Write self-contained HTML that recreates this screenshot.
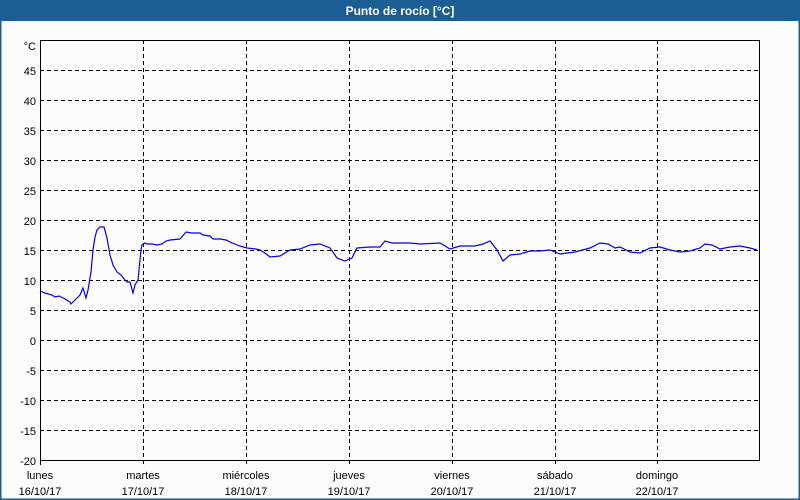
<!DOCTYPE html>
<html><head><style>
body{margin:0;background:#fff}
svg{display:block;font-family:"Liberation Sans",sans-serif}
</style></head><body>
<svg width="800" height="500" viewBox="0 0 800 500" xmlns="http://www.w3.org/2000/svg">
<rect x="0" y="0" width="800" height="500" fill="#fcfcfc"/>
<rect x="0.5" y="0.5" width="799" height="499" fill="none" stroke="#1b5e95" stroke-width="2"/>
<rect x="0" y="0" width="800" height="21" fill="#1b5e95"/>
<text x="400" y="15" fill="#fff" font-size="12" font-weight="bold" text-anchor="middle">Punto de rocío [°C]</text>
<g stroke="#000" stroke-dasharray="4,3" stroke-width="1">
<line x1="40" x2="760" y1="70.5" y2="70.5"/><line x1="40" x2="760" y1="100.5" y2="100.5"/>
<line x1="40" x2="760" y1="130.5" y2="130.5"/><line x1="40" x2="760" y1="160.5" y2="160.5"/>
<line x1="40" x2="760" y1="190.5" y2="190.5"/><line x1="40" x2="760" y1="220.5" y2="220.5"/>
<line x1="40" x2="760" y1="250.5" y2="250.5"/><line x1="40" x2="760" y1="280.5" y2="280.5"/>
<line x1="40" x2="760" y1="310.5" y2="310.5"/><line x1="40" x2="760" y1="340.5" y2="340.5"/>
<line x1="40" x2="760" y1="370.5" y2="370.5"/><line x1="40" x2="760" y1="400.5" y2="400.5"/>
<line x1="40" x2="760" y1="430.5" y2="430.5"/>
<line x1="143.5" x2="143.5" y1="40" y2="465"/><line x1="246.5" x2="246.5" y1="40" y2="465"/>
<line x1="349.5" x2="349.5" y1="40" y2="465"/><line x1="452.5" x2="452.5" y1="40" y2="465"/>
<line x1="555.5" x2="555.5" y1="40" y2="465"/><line x1="657.5" x2="657.5" y1="40" y2="465"/>
</g>
<rect x="40.5" y="40.5" width="719" height="420" fill="none" stroke="#000" stroke-width="1"/>
<line x1="40.5" x2="40.5" y1="460" y2="465" stroke="#000"/>
<g font-size="11" fill="#000" text-anchor="end">
<text x="36" y="50">°C</text>
<text x="36" y="75">45</text><text x="36" y="105">40</text><text x="36" y="135">35</text>
<text x="36" y="165">30</text><text x="36" y="195">25</text><text x="36" y="225">20</text>
<text x="36" y="255">15</text><text x="36" y="285">10</text><text x="36" y="315">5</text>
<text x="36" y="345">0</text><text x="36" y="375">-5</text><text x="36" y="405">-10</text>
<text x="36" y="435">-15</text><text x="36" y="465">-20</text>
</g>
<g font-size="11" fill="#000" text-anchor="middle">
<text x="40" y="479">lunes</text><text x="40" y="495">16/10/17</text>
<text x="143" y="479">martes</text><text x="143" y="495">17/10/17</text>
<text x="246" y="479">miércoles</text><text x="246" y="495">18/10/17</text>
<text x="349" y="479">jueves</text><text x="349" y="495">19/10/17</text>
<text x="452" y="479">viernes</text><text x="452" y="495">20/10/17</text>
<text x="555" y="479">sábado</text><text x="555" y="495">21/10/17</text>
<text x="657" y="479">domingo</text><text x="657" y="495">22/10/17</text>
</g>
<polyline fill="none" stroke="#0000ff" stroke-width="1.2" points="40,291 45,293 52,295 55,297 59,296 65,299 70,302 71,304 75,300 80,295 83,288 86,298 88,290 91,272 93,250 95,237 97,230 100,227 104,227 107,238 110,255 113,265 117,272 121,275 125,280 127,282 130,282 133,293 135,285 138,280 141,250 142,245 145,243 147,244 152,244 157,245 162,244 166,241 170,240 180,239 186,232 192,233 200,233 203,235 210,236 213,239 220,239 226,240 232,243 240,246 247,248 256,249 260,250 265,253 270,257 280,256 290,250 300,249 310,245 320,244 330,248 337,258 345,261 352,258 357,248 370,247 380,247 385,241 392,243 410,243 420,244 440,243 450,249 460,246 465,246 475,246 483,244 490,241 497,250 503,261 510,255 520,254 530,251 540,251 550,250 560,254 575,252 590,248 600,243 608,244 615,248 620,247 630,252 640,253 650,248 660,247 670,250 680,252 690,251 700,248 705,244 712,245 720,249 730,247 740,246 750,248 757,250"/>
</svg>
</body></html>
